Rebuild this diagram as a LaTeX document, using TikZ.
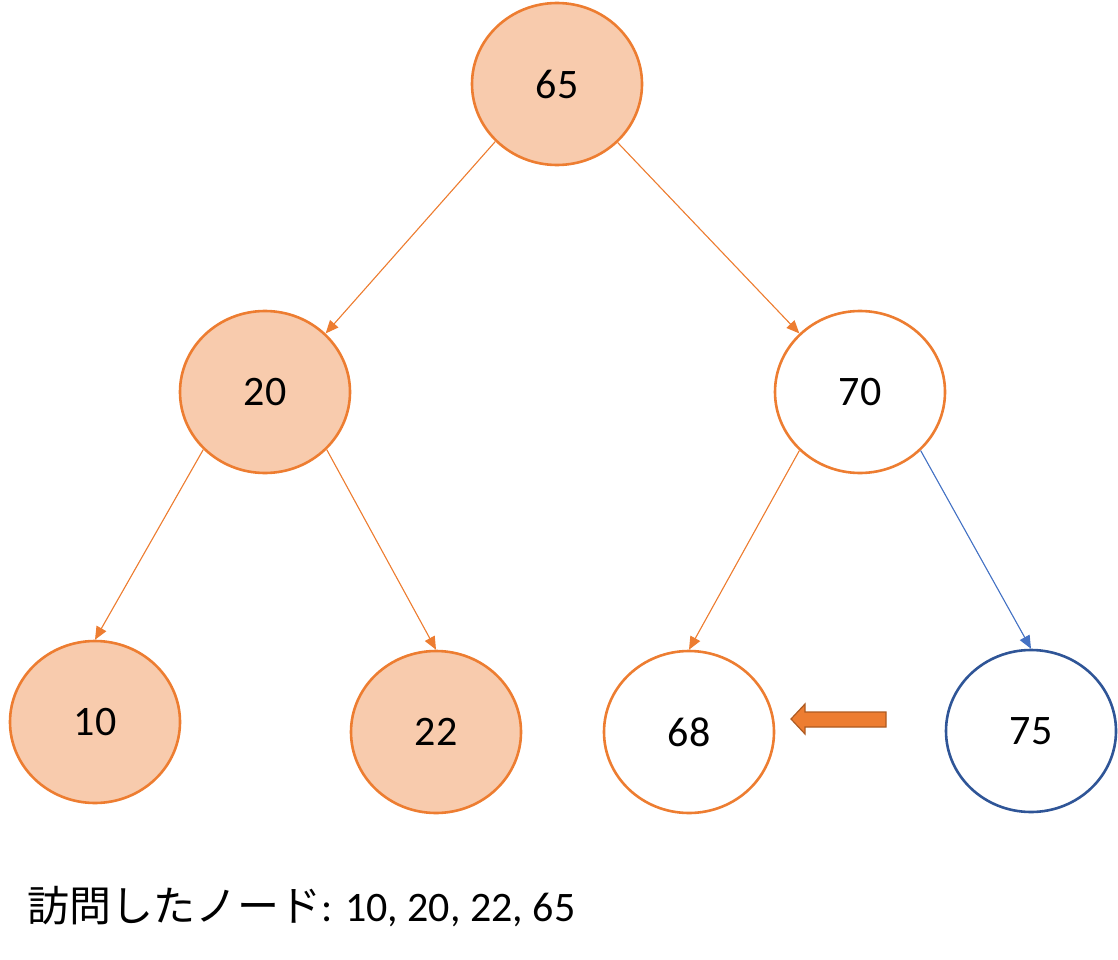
\documentclass[tikz,border=0pt]{standalone}
\usepackage{fontspec}
\setmainfont{Carlito}
\newfontfamily\jpfont{Noto Sans CJK JP}
\usetikzlibrary{shapes.geometric,arrows.meta}
\definecolor{orng}{HTML}{ED7D31}
\definecolor{orngfill}{HTML}{F8CBAD}
\definecolor{orngdark}{HTML}{AE5A21}
\definecolor{blu}{HTML}{4472C4}
\definecolor{bludark}{HTML}{2F5597}
\tikzset{
  tnode/.style={ellipse, minimum width=170pt, minimum height=162pt, inner sep=0pt,
    line width=2.6pt, draw=orng, font=\fontsize{42}{46}\selectfont},
  visited/.style={tnode, fill=orngfill},
  plain/.style={tnode, fill=white},
  bluenode/.style={tnode, draw=bludark, fill=white},
  edge/.style={draw=orng, line width=1.1pt, -{Triangle[length=13pt,width=11pt]}, fill=orng},
  bedge/.style={draw=blu, line width=1.1pt, -{Triangle[length=13pt,width=11pt]}, fill=blu},
}
\begin{document}
\begin{tikzpicture}[x=1pt,y=-1pt]
\useasboundingbox (0,0) rectangle (1118,960);
\node[visited] (n65) at (557,84) {65};
\node[visited] (n20) at (265,392) {20};
\node[plain] (n70) at (860,392) {70};
\node[visited] (n10) at (95,722) {10};
\node[visited] (n22) at (436,732) {22};
\node[plain] (n68) at (689,732) {68};
\node[bluenode] (n75) at (1031,731) {75};
\draw[edge] (n65.223) -- (n20.44);
\draw[edge] (n65.316) -- (n70.136);
\draw[edge] (n20.223) -- (n10.north);
\draw[edge] (n20.317) -- (n22.north);
\draw[edge] (n70.224) -- (n68.north);
\draw[bedge] (n70.316) -- (n75.north);
\draw[fill=orng, draw=orngdark, line width=1.2pt, line join=miter]
  (791,719) -- (805,704) -- (805,712) -- (886,712) -- (886,727) -- (805,727) -- (805,734) -- cycle;
\node[anchor=base west, inner sep=0pt, font=\fontsize{42}{46}\selectfont] (visitedtext) at (27,921)
  {{\jpfont 訪問したノード}: 10, 20, 22, 65};
\end{tikzpicture}
\end{document}
